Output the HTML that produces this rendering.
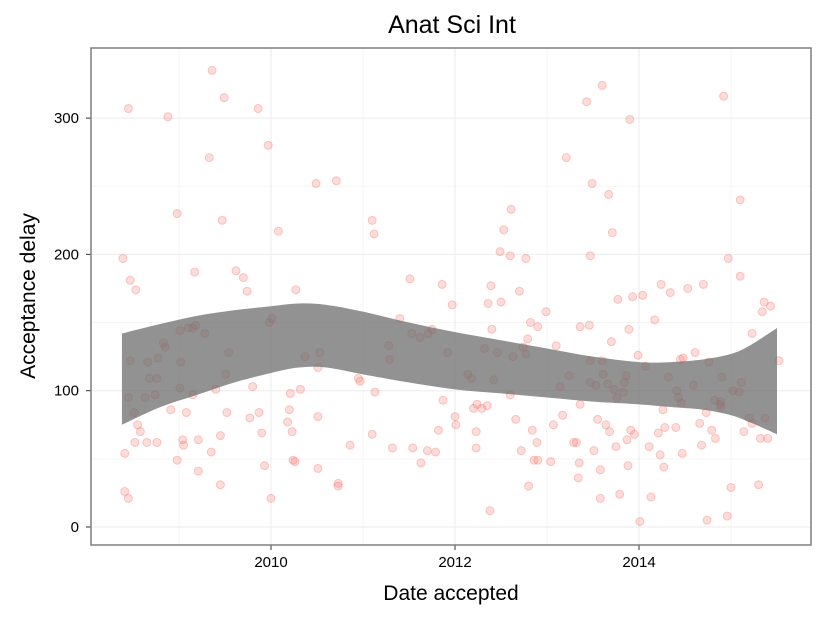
<!DOCTYPE html>
<html><head><meta charset="utf-8"><style>
body{margin:0;background:#fff;}
svg text{font-family:"Liberation Sans",sans-serif;}
</style></head><body>
<svg id="chart" width="825" height="618" viewBox="0 0 825 618">
<rect x="0" y="0" width="825" height="618" fill="#fff"/>
<g id="grid"></g><g id="pts"></g><g id="band"></g><g id="axes"></g>
<text x="452" y="33" font-size="25" text-anchor="middle">Anat Sci Int</text>
<text x="451" y="600" font-size="21" text-anchor="middle">Date accepted</text>
<text transform="translate(35,296) rotate(-90)" font-size="21" text-anchor="middle">Acceptance delay</text>
</svg>
<script>
const dates=[2008.39,2008.45,2008.47,2008.53,2008.41,2008.41,2008.45,2008.45,2008.47,2008.51,2008.55,2008.58,2008.52,2008.65,2008.66,2008.68,2008.63,2008.76,2008.74,2008.76,2008.77,2008.83,2008.85,2008.88,2008.91,2008.98,2008.98,2009.01,2009.02,2009.01,2009.04,2009.05,2009.08,2009.10,2009.15,2009.17,2009.18,2009.21,2009.21,2009.15,2009.28,2009.33,2009.36,2009.35,2009.40,2009.45,2009.45,2009.47,2009.49,2009.51,2009.52,2009.54,2009.62,2009.70,2009.74,2009.77,2009.80,2009.86,2009.87,2009.90,2009.93,2009.97,2009.98,2010.00,2010.01,2010.08,2010.18,2010.21,2010.20,2010.23,2010.24,2010.26,2010.27,2010.32,2010.37,2010.51,2010.53,2010.49,2010.51,2010.51,2010.71,2010.73,2010.73,2010.86,2010.95,2010.97,2011.10,2011.12,2011.10,2011.13,2011.28,2011.29,2011.32,2011.40,2011.51,2011.53,2011.54,2011.62,2011.63,2011.70,2011.71,2011.75,2011.79,2011.82,2011.86,2011.87,2011.92,2011.97,2012.00,2012.01,2012.14,2012.18,2012.20,2012.23,2012.23,2012.24,2012.29,2012.32,2012.35,2012.36,2012.38,2012.39,2012.40,2012.42,2012.46,2012.49,2012.50,2012.53,2012.60,2012.61,2012.60,2012.63,2012.66,2012.70,2012.72,2012.74,2012.77,2012.77,2012.80,2012.79,2012.82,2012.84,2012.86,2012.89,2012.90,2012.90,2012.99,2013.04,2013.07,2013.10,2013.14,2013.17,2013.21,2013.24,2013.29,2013.32,2013.34,2013.35,2013.36,2013.36,2013.43,2013.46,2013.47,2013.47,2013.47,2013.49,2013.51,2013.53,2013.55,2013.58,2013.58,2013.60,2013.60,2013.61,2013.64,2013.66,2013.67,2013.68,2013.70,2013.71,2013.73,2013.75,2013.76,2013.77,2013.79,2013.83,2013.84,2013.86,2013.87,2013.88,2013.90,2013.89,2013.91,2013.93,2013.95,2013.99,2014.01,2014.04,2014.07,2014.11,2014.13,2014.17,2014.21,2014.23,2014.24,2014.26,2014.27,2014.28,2014.32,2014.34,2014.40,2014.41,2014.43,2014.46,2014.45,2014.47,2014.48,2014.53,2014.59,2014.61,2014.66,2014.68,2014.70,2014.73,2014.74,2014.76,2014.79,2014.83,2014.82,2014.88,2014.89,2014.92,2014.89,2014.90,2014.96,2014.97,2015.00,2015.02,2015.09,2015.10,2015.10,2015.11,2015.14,2015.20,2015.23,2015.23,2015.30,2015.32,2015.34,2015.36,2015.37,2015.40,2015.43,2015.52];
const delays=[197,307,181,174,54,26,21,95,122,84,75,70,62,62,121,109,95,62,97,109,124,135,132,301,86,230,49,102,121,144,64,60,84,146,146,187,148,64,41,97,142,271,335,55,101,67,31,225,315,112,84,128,188,183,173,80,103,307,84,69,45,280,150,21,153,217,77,98,86,70,49,48,174,101,125,117,128,252,43,81,254,32,30,60,109,107,225,215,68,99,133,123,58,153,182,142,58,139,47,56,142,145,55,71,178,93,128,163,81,75,112,109,87,58,70,90,87,131,89,164,12,177,145,108,128,202,165,218,199,233,97,125,79,173,56,132,127,197,30,138,150,71,49,62,147,49,158,48,75,133,103,82,271,111,62,62,36,47,147,90,312,148,199,122,106,252,56,104,79,42,21,324,122,112,75,105,244,70,136,216,101,59,95,167,24,99,106,111,64,45,299,145,71,169,68,126,4,170,118,59,22,152,69,53,178,86,44,73,110,172,73,100,95,91,123,54,124,175,104,128,76,60,178,84,5,121,71,65,93,90,92,316,88,110,8,197,29,100,99,240,184,106,70,80,142,76,31,65,158,165,80,65,162,122];
const bandX=[2008.38,2008.8,2009.2,2009.6,2010.0,2010.3,2010.6,2011.0,2011.5,2012.0,2012.5,2013.0,2013.5,2014.0,2014.35,2014.7,2015.0,2015.2,2015.5];
const bandHi=[142,149,155,159,162,164,163,158,150,143,137,131,125,121,121,123,127,133,146];
const bandLo=[75,88,97,106,113,117,117,112,106,101,98,95,92,90,88,86,82,77,68];
const yTicks=[0,100,200,300];
const xTicks=[2010,2012,2014];
const X0=91,X1=811,Y0=48,Y1=545;
const xs=v=>271+(v-2010)*92;
const ys=v=>527-v*1.363;
const NS='http://www.w3.org/2000/svg';
function mk(t,a,p){const e=document.createElementNS(NS,t);for(const k in a)e.setAttribute(k,a[k]);p.appendChild(e);return e;}
const grid=document.getElementById('grid'),band=document.getElementById('band'),pts=document.getElementById('pts'),axes=document.getElementById('axes');
mk('rect',{x:X0,y:Y0,width:X1-X0,height:Y1-Y0,fill:'#fff'},grid);
[50,150,250].forEach(v=>{const l=mk('line',{x1:X0,x2:X1,y1:ys(v),y2:ys(v),stroke:'#f5f5f5','stroke-width':1},grid);

});
[2009,2011,2013,2015].forEach(v=>{const l=mk('line',{y1:Y0,y2:Y1,x1:xs(v),x2:xs(v),stroke:'#f5f5f5','stroke-width':1},grid);

});
yTicks.forEach(v=>{const l=mk('line',{x1:X0,x2:X1,y1:ys(v),y2:ys(v),stroke:'#ebebeb','stroke-width':1},grid);


const t=mk('text',{x:X0-12,y:ys(v)+5,'font-size':15,'text-anchor':'end',fill:'#000'},axes);t.textContent=v;


mk('line',{x1:X0-5,x2:X0,y1:ys(v),y2:ys(v),stroke:'#333'},axes);});
xTicks.forEach(v=>{const l=mk('line',{y1:Y0,y2:Y1,x1:xs(v),x2:xs(v),stroke:'#ebebeb','stroke-width':1},grid);


const t=mk('text',{x:xs(v),y:Y1+22,'font-size':15,'text-anchor':'middle',fill:'#000'},axes);t.textContent=v;


mk('line',{y1:Y1,y2:Y1+5,x1:xs(v),x2:xs(v),stroke:'#333'},axes);});
function spline(P,first){let s='';
for(let i=0;i<P.length;i++){
 if(i===0){s+=(first?'M':'L')+P[0][0]+','+P[0][1];continue;}
 const p0=P[Math.max(i-2,0)],p1=P[i-1],p2=P[i],p3=P[Math.min(i+1,P.length-1)];
 const c1=[p1[0]+(p2[0]-p0[0])/6,p1[1]+(p2[1]-p0[1])/6],c2=[p2[0]-(p3[0]-p1[0])/6,p2[1]-(p3[1]-p1[1])/6];
 s+='C'+c1[0]+','+c1[1]+' '+c2[0]+','+c2[1]+' '+p2[0]+','+p2[1];}
return s;}
const hi=bandX.map((v,i)=>[xs(v),ys(bandHi[i])]);
const lo=bandX.map((v,i)=>[xs(v),ys(bandLo[i])]).reverse();
const b=mk('path',{d:spline(hi,true)+spline(lo,false)+'Z',fill:'#6e6e6e','fill-opacity':0.75},band);


dates.forEach((v,i)=>{const c=mk('circle',{cx:xs(v),cy:ys(delays[i]),r:4,fill:'rgba(248,118,109,0.25)',stroke:'rgba(248,90,80,0.3)','stroke-width':1},pts);

});
const fr=mk('rect',{x:X0,y:Y0,width:X1-X0,height:Y1-Y0,fill:'none',stroke:'#7f7f7f','stroke-width':1.5},axes);


</script>
</body></html>
